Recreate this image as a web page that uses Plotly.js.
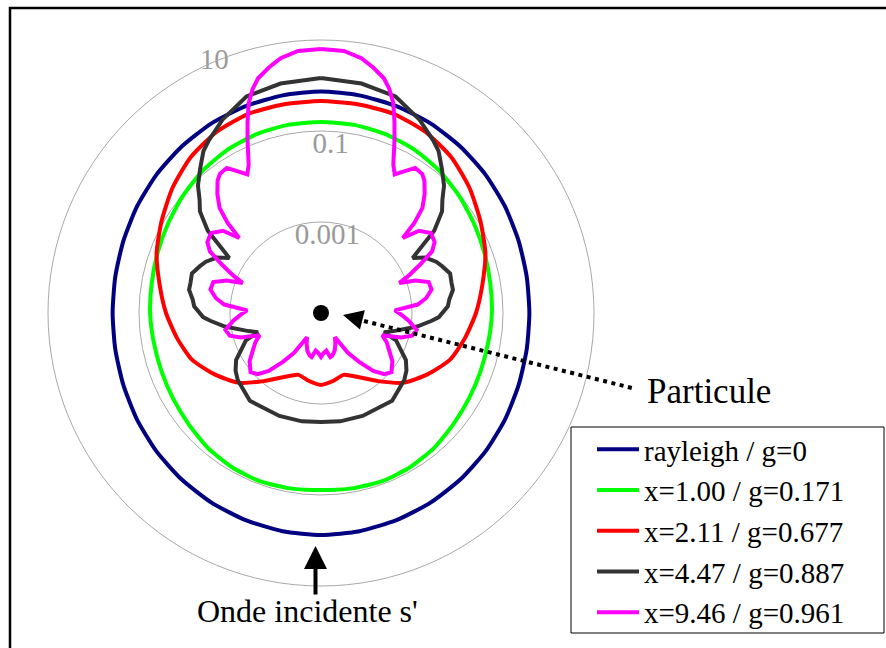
<!DOCTYPE html>
<html><head><meta charset="utf-8">
<script src="https://cdn.plot.ly/plotly-3.0.1.min.js"></script>
<style>html,body{margin:0;padding:0;background:#fff}#chart{width:886px;height:648px}</style>
</head><body><div id="chart"></div>
<script>
// scattering angle (deg, 0 = forward) and phase-function values, half plane 0..180
const angles10 = [0,10,20,30,40,50,60,70,80,90,100,110,120,130,140,150,160,170,180];
const rayleigh = [0.74,0.72,0.69,0.65,0.59,0.53,0.47,0.42,0.39,0.38,0.39,0.42,0.47,0.53,0.59,0.65,0.70,0.74,0.76];
const x100 = [0.158,0.158,0.150,0.136,0.116,0.095,0.078,0.067,0.060,0.057,0.054,0.054,0.057,0.063,0.074,0.082,0.086,0.082,0.078];
const x211 = [0.456,0.456,0.456,0.392,0.290,0.184,0.111,0.070,0.040,0.0255,0.0162,0.0103,0.0050,0.0024,0.0009,0.00042,0.00028,0.00033,0.00038];
const anglesX447 = [0,10,19,27,33,36,40,44,47,50,54,59,62,66,69,73,77,80,84,87,92,94,98,104,107,110,119,124,129,141,158,170,180];
const x447 = [1.46,1.32,1.08,0.587,0.336,0.249,0.136,0.078,0.0445,0.0297,0.0119,0.00225,0.00392,0.00588,0.0072,0.00927,0.0088,0.0088,0.00684,0.00618,0.00392,0.00275,0.00136,0.00044,0.00028,0.00057,0.00136,0.00184,0.00225,0.00305,0.00275,0.00262,0.00249];
const anglesX946 = [0,5,9,12,15,17,19,21,23,26,28,30,33,36,38,41,44,46,47.5,50,54,58,61,64,67,69,71,74,78,82,85,88,91,95,100,104,107,110,114,119,124,130,134,138,142,146,150,155,160,165,168,172,176,180];
const x946 = [6.34,6.03,4.68,3.28,2.19,1.39,0.757,0.320,0.136,0.0423,0.0282,0.0382,0.0634,0.0603,0.0492,0.0297,0.0162,0.0072,0.00275,0.0065,0.00975,0.0088,0.00618,0.00262,0.00122,0.0007,0.00158,0.0029,0.00305,0.00214,0.00136,0.00042,0.00057,0.00086,0.00136,0.00116,0.0007,0.00027,0.00038,0.00052,0.00078,0.00105,0.00086,0.00052,0.00023,0.000114,0.0000412,0.0000558,0.0000757,0.0000927,0.0000975,0.0000684,0.0000757,0.0000927];

const seriesNames = ['rayleigh / g=0','x=1.00 / g=0.171','x=2.11 / g=0.677','x=4.47 / g=0.887','x=9.46 / g=0.961'];
const seriesColors = ['#000080','#00ff00','#ff0000','#333333','#ff00ff'];

const tickValues = [10, 0.1, 0.001];
const tickLabels = ['10', '0.1', '0.001'];
const tickAngles = [23, -3, -4];

const particleR = [1e-5];
const particleTheta = [0];

function mirror(th, v) {
  const t = th.slice(), r = v.slice();
  for (let i = th.length - 2; i >= 0; i--) { t.push(360 - th[i]); r.push(v[i]); }
  return {t, r};
}

const series = [
  [angles10, rayleigh, 'spline'],
  [angles10, x100, 'spline'],
  [angles10, x211, 'spline'],
  [anglesX447, x447, 'linear'],
  [anglesX946, x946, 'linear']
];

const FONT = 'Liberation Serif, Times New Roman, serif';
const traces = series.map((s, i) => {
  const m = mirror(s[0], s[1]);
  return {
    type: 'scatterpolar', mode: 'lines', r: m.r, theta: m.t,
    name: seriesNames[i],
    line: {color: seriesColors[i], width: 4, shape: s[2], smoothing: 0.6},
    hoverinfo: 'skip'
  };
});

traces.push({
  type: 'scatterpolar', mode: 'text', r: tickValues, theta: tickAngles,
  text: tickLabels, textposition: ['middle center', 'bottom center', 'bottom center'],
  textfont: {family: FONT, size: 29, color: '#9a9a9a'},
  cliponaxis: false, showlegend: false, hoverinfo: 'skip'
});
traces.push({
  type: 'scatterpolar', mode: 'markers', r: particleR, theta: particleTheta,
  marker: {color: '#000', size: 16}, cliponaxis: false, showlegend: false, hoverinfo: 'skip'
});

const W = 886, H = 648;
const px = x => x / W, py = y => 1 - y / H;

const layout = {
  width: W, height: H,
  margin: {l: 0, r: 0, t: 0, b: 0},
  paper_bgcolor: '#fff',
  font: {family: FONT, color: '#000'},
  showlegend: true,
  legend: {
    x: px(592), y: py(424), xanchor: 'left', yanchor: 'top',
    font: {family: FONT, size: 29, color: '#000'},
    bgcolor: 'rgba(0,0,0,0)', borderwidth: 0, itemwidth: 42
  },
  polar: {
    domain: {x: [px(48), px(594)], y: [py(586), py(40)]},
    bgcolor: '#fff',
    angularaxis: {rotation: 90, direction: 'counterclockwise', showgrid: false, showticklabels: false,
      ticks: '', showline: true, linecolor: '#a8a8a8', linewidth: 1},
    radialaxis: {type: 'log', range: [-5, 1], tickvals: tickValues, showticklabels: false, ticks: '',
      showline: false, gridcolor: '#a8a8a8', gridwidth: 1, angle: 90}
  },
  shapes: [
    {type: 'rect', xref: 'paper', yref: 'paper', x0: px(10), x1: 1.1, y0: -0.1, y1: py(8),
      line: {color: '#000', width: 2.5}},
    {type: 'rect', xref: 'paper', yref: 'paper', x0: px(571), x1: px(884), y0: py(633), y1: py(427),
      line: {color: '#000', width: 1}, fillcolor: '#fff', layer: 'above'},
    {type: 'line', xref: 'paper', yref: 'paper', x0: px(364), y0: py(321), x1: px(636), y1: py(389),
      line: {color: '#000', width: 4, dash: '4px,4.5px'}}
  ],
  annotations: [
    {xref: 'paper', yref: 'paper', x: px(343), y: py(315), text: '', showarrow: true,
      ax: 20, ay: 5, arrowhead: 2, arrowsize: 2, arrowwidth: 2, arrowcolor: '#000'},
    {xref: 'paper', yref: 'paper', x: px(709), y: py(391), text: 'Particule', showarrow: false,
      xanchor: 'center', yanchor: 'middle', font: {family: FONT, size: 35, color: '#000'}},
    {xref: 'paper', yref: 'paper', x: px(315.5), y: py(546), text: '', showarrow: true,
      ax: 0, ay: 50, arrowhead: 2, arrowsize: 1.15, arrowwidth: 4, arrowcolor: '#000'},
    {xref: 'paper', yref: 'paper', x: px(307.5), y: py(611), text: "Onde incidente s'", showarrow: false,
      xanchor: 'center', yanchor: 'middle', font: {family: FONT, size: 32, color: '#000'}}
  ]
};

Plotly.newPlot('chart', traces, layout, {staticPlot: true, displayModeBar: false});
</script>
</body></html>
